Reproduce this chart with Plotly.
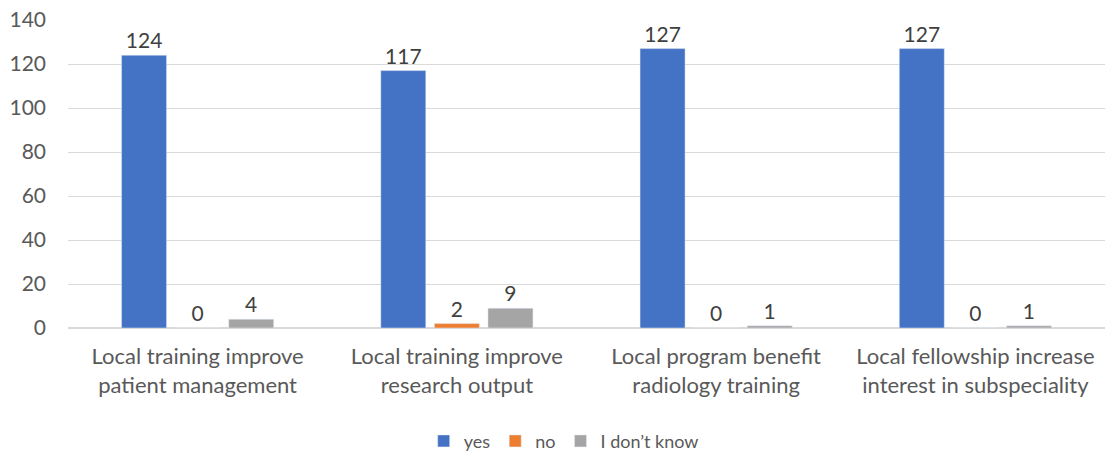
import plotly.graph_objects as go

categories = ["Local training improve<br>patient management",
              "Local training improve<br>research output",
              "Local program benefit<br>radiology training",
              "Local fellowship increase<br>interest in subspeciality"]
yes_vals = [124, 117, 127, 127]
no_vals = [0, 2, 0, 0]
dk_vals = [4, 9, 1, 1]
series_names = ["yes", "no", "I don’t know"]
colors = ["#4472C4", "#ED7D31", "#A5A5A5"]

FONT = "Lato, Carlito, Calibri, sans-serif"
fig = go.Figure()
for name, vals, col in zip(series_names, [yes_vals, no_vals, dk_vals], colors):
    fig.add_trace(go.Bar(x=categories, y=vals, name=name, marker_color=col,
                         text=vals, textposition="outside", cliponaxis=False,
                         textfont=dict(size=21, color="#404040", family=FONT)))

fig.update_layout(
    width=1112, height=462,
    margin=dict(l=68, r=7, t=20, b=134),
    plot_bgcolor="white", paper_bgcolor="white",
    barmode="group", bargap=0.38, bargroupgap=0.16,
    font=dict(family=FONT, size=21, color="#595959"),
    showlegend=True,
    legend=dict(orientation="h", x=0.478, xanchor="center",
                yref="container", y=0.045, yanchor="middle",
                font=dict(size=18, color="#595959"), itemwidth=30, traceorder="normal"),
    yaxis=dict(range=[0, 140], dtick=20, showgrid=True, gridcolor="#D9D9D9",
               gridwidth=1, zeroline=True, zerolinecolor="#D9D9D9", ticks="",
               tickfont=dict(size=21, color="#595959"), ticklabelstandoff=21,
               automargin=False),
    xaxis=dict(showline=False, ticks="", tickfont=dict(size=22, color="#595959"),
               ticklabelstandoff=13, automargin=False),
)
fig.write_html("out.html", config={"displayModeBar": False},
               post_script="document.body.style.margin='0';")
